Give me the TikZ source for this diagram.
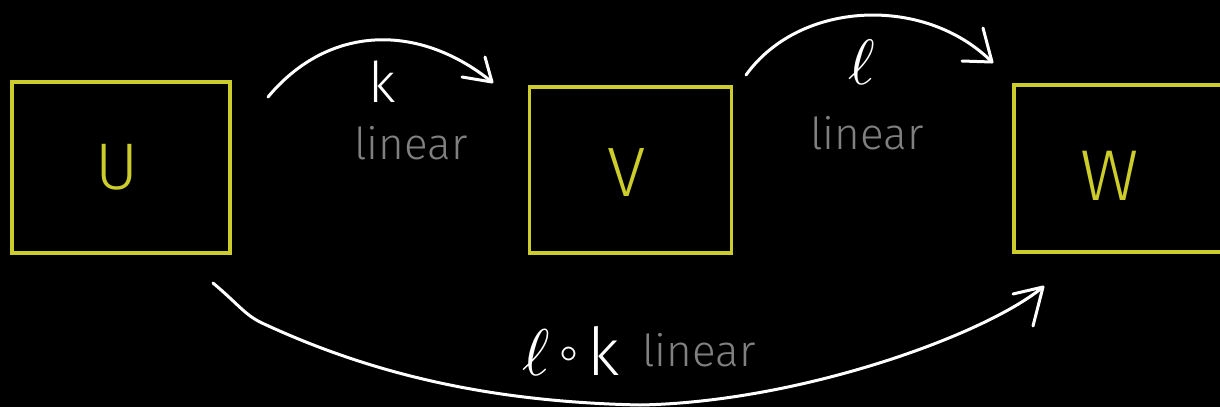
\documentclass[tikz,border=0pt]{standalone}
\usepackage{fontspec}
\usepackage{unicode-math}
\setmainfont{Fira Sans}[UprightFont={* Light}]
\setmathfont{Latin Modern Math}
\definecolor{boxyellow}{RGB}{204,204,44}
\definecolor{labelgray}{RGB}{128,128,128}
\tikzset{
  boxnode/.style={draw=boxyellow, line width=3.5pt, rectangle, inner sep=0pt},
  letter/.style={text=boxyellow, inner sep=0pt, font=\fontsize{66}{66}\selectfont},
  arrowline/.style={draw=white, line width=3pt, line cap=round, line join=round},
  graylabel/.style={text=labelgray, inner sep=0pt, font=\fontsize{44}{44}\selectfont},
  whitelabel/.style={text=white, inner sep=0pt, font=\fontsize{56}{56}\selectfont}
}
\begin{document}
\begin{tikzpicture}[x=1pt,y=-1pt]
\useasboundingbox[fill=black] (0,0) rectangle (1220,407);
% boxes
\node[boxnode, minimum width=218pt, minimum height=171pt] (boxU) at (121,167.5) {};
\node[boxnode, minimum width=202pt, minimum height=166pt] (boxV) at (630.5,170) {};
\node[boxnode, minimum width=214pt, minimum height=167pt] (boxW) at (1121,168.5) {};
\node[letter] (U) at (117,167) {U};
\node[letter, font=\fontsize{70}{70}\selectfont] (V) at (627,173) {V};
\node[letter, font=\fontsize{72}{72}\selectfont] (W) at (1110,176) {W};
% k arrow
\coordinate (ks) at (268,97);
\coordinate (ke) at (492,82);
\draw[arrowline] (ks) .. controls (328,25) and (418,22) .. (ke);
\draw[arrowline] (462,77) -- (ke) -- (485,57);
\node[whitelabel] (k) at (382,82) {k};
\node[graylabel] (lin1) at (411,143) {linear};
% l arrow
\coordinate (ls) at (746,75);
\coordinate (le) at (992,62);
\draw[arrowline] (ls) .. controls (800,0) and (925,-5) .. (le);
\draw[arrowline] (962,61) -- (le) -- (983,28);
\node[text=white, inner sep=0pt, font=\fontsize{64}{64}\selectfont] (l) at (862,62) {$\ell$};
\node[graylabel] (lin2) at (867,133) {linear};
% composite arrow
\coordinate (cs) at (213,283);
\coordinate (ce) at (1043,287);
\draw[arrowline] (cs) .. controls (238,304) and (245,315) .. (262,323)
  .. controls (380,378) and (500,402) .. (640,405)
  .. controls (800,402) and (985,335) .. (ce);
\draw[arrowline] (1013,294) -- (ce) -- (1033,326);
\node[text=white, inner sep=0pt, font=\fontsize{66}{66}\selectfont, anchor=base west] (lk) at (522,375)
  {$\ell$\kern9pt\raisebox{10pt}{\fontsize{46}{46}\selectfont$\circ$}\kern9pt k};
\node[graylabel] (lin3) at (699,350) {linear};
\end{tikzpicture}
\end{document}
